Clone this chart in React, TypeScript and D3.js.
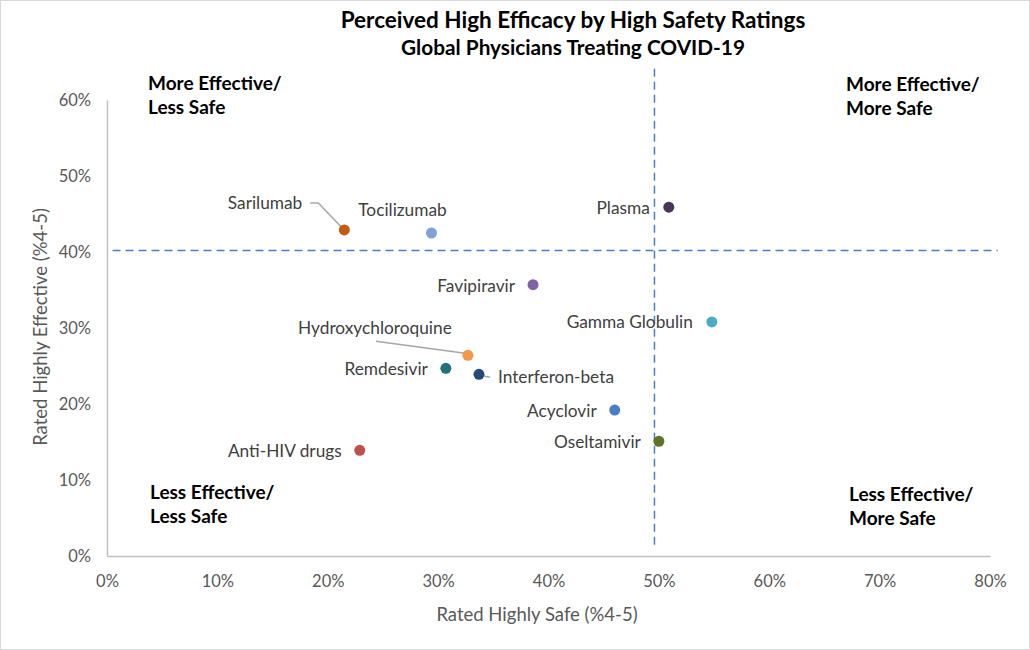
import React, { useRef, useEffect } from 'react';
import * as d3 from 'd3';

// Drugs rated by global physicians treating COVID-19
const drugs = [
  'Sarilumab',
  'Tocilizumab',
  'Plasma',
  'Favipiravir',
  'Gamma Globulin',
  'Hydroxychloroquine',
  'Remdesivir',
  'Interferon-beta',
  'Acyclovir',
  'Oseltamivir',
  'Anti-HIV drugs',
];
// % rating the drug 4-5 for safety (x) and for efficacy (y)
const ratedSafe = [21.5, 29.4, 50.9, 38.6, 54.8, 32.7, 30.7, 33.7, 46.0, 50.0, 22.9];
const ratedEffective = [42.9, 42.5, 45.9, 35.7, 30.8, 26.4, 24.7, 23.9, 19.2, 15.1, 13.9];

const xTicks = [0, 10, 20, 30, 40, 50, 60, 70, 80];
const yTicks = [0, 10, 20, 30, 40, 50, 60];

// quadrant split lines (hand placed in the original)
const safetyCut = 49.6;
const efficacyCut = 40.2;

const dotColors = [
  '#C55A11',
  '#7FA3D6',
  '#473659',
  '#8064A2',
  '#4BACC6',
  '#F79646',
  '#23717A',
  '#254A73',
  '#4A7DC4',
  '#5E7329',
  '#C0504D',
];

// label placement in px relative to the dot
const labelPlace = {
  Sarilumab: { dx: -42, dy: -27, anchor: 'end', leader: [[-34, -27], [-26, -27], [-3, -3]] },
  Tocilizumab: { dx: -29, dy: -23, anchor: 'middle' },
  Plasma: { dx: -19, dy: 1, anchor: 'end' },
  Favipiravir: { dx: -18, dy: 1, anchor: 'end' },
  'Gamma Globulin': { dx: -19, dy: 0, anchor: 'end' },
  Hydroxychloroquine: { dx: -93, dy: -27, anchor: 'middle', leader: [[-92, -14], [-3, -2]] },
  Remdesivir: { dx: -18, dy: 1, anchor: 'end' },
  'Interferon-beta': { dx: 19, dy: 3, anchor: 'start', leader: [[1, 1], [11, 3]] },
  Acyclovir: { dx: -18, dy: 1, anchor: 'end' },
  Oseltamivir: { dx: -18, dy: 1, anchor: 'end' },
  'Anti-HIV drugs': { dx: -18, dy: 1, anchor: 'end' },
};

const quadrants = [
  { lines: ['More Effective/', 'Less Safe'], x: 148, y: 83 },
  { lines: ['More Effective/', 'More Safe'], x: 846, y: 84 },
  { lines: ['Less Effective/', 'Less Safe'], x: 150, y: 492 },
  { lines: ['Less Effective/', 'More Safe'], x: 849, y: 494 },
];

const FONT = 'Lato, "Open Sans", sans-serif';

function Chart() {
  const chartRef = useRef(null);

  useEffect(() => {
    document.body.style.margin = '0';
    const svg = d3.select(chartRef.current);
    svg.selectAll('*').remove();

    const width = 1030;
    const height = 650;

    svg
      .append('rect')
      .attr('x', 0.5)
      .attr('y', 0.5)
      .attr('width', width - 1)
      .attr('height', height - 1)
      .attr('fill', '#fff')
      .attr('stroke', '#D9D9D9');

    const xScale = d3.scaleLinear().domain([0, 80]).range([107, 990]);
    const yScale = d3.scaleLinear().domain([0, 60]).range([556, 100]);

    // Titles
    svg
      .append('text')
      .attr('x', 573)
      .attr('y', 20)
      .attr('dy', '0.35em')
      .attr('text-anchor', 'middle')
      .attr('font-family', FONT)
      .attr('font-weight', 'bold')
      .attr('font-size', 22.5)
      .attr('fill', '#000')
      .text('Perceived High Efficacy by High Safety Ratings');
    svg
      .append('text')
      .attr('x', 573)
      .attr('y', 48)
      .attr('dy', '0.35em')
      .attr('text-anchor', 'middle')
      .attr('font-family', FONT)
      .attr('font-weight', 'bold')
      .attr('font-size', 20.8)
      .attr('fill', '#000')
      .text('Global Physicians Treating COVID-19');

    // Axes
    const xAxis = d3
      .axisBottom(xScale)
      .tickValues(xTicks)
      .tickSize(0)
      .tickPadding(19)
      .tickFormat((d) => `${d}%`);
    const yAxis = d3
      .axisLeft(yScale)
      .tickValues(yTicks)
      .tickSize(0)
      .tickPadding(16)
      .tickFormat((d) => `${d}%`);

    const gx = svg.append('g').attr('transform', `translate(0,${yScale(0)})`).call(xAxis);
    const gy = svg.append('g').attr('transform', `translate(${xScale(0)},0)`).call(yAxis);
    [gx, gy].forEach((g) => {
      g.select('.domain').attr('stroke', '#BFBFBF').attr('stroke-width', 1.5);
      g.selectAll('text')
        .attr('font-family', FONT)
        .attr('font-size', 16.5)
        .attr('fill', '#595959');
    });

    // Axis titles
    svg
      .append('text')
      .attr('x', 537)
      .attr('y', 615)
      .attr('dy', '0.35em')
      .attr('text-anchor', 'middle')
      .attr('font-family', FONT)
      .attr('font-size', 18.5)
      .attr('fill', '#595959')
      .text('Rated Highly Safe (%4-5)');
    svg
      .append('text')
      .attr('transform', 'translate(41,327) rotate(-90)')
      .attr('dy', '0.35em')
      .attr('text-anchor', 'middle')
      .attr('font-family', FONT)
      .attr('font-size', 18.5)
      .attr('fill', '#595959')
      .text('Rated Highly Effective (%4-5)');

    // Quadrant split lines
    svg
      .append('line')
      .attr('x1', xScale(0.5))
      .attr('x2', xScale(80.7))
      .attr('y1', yScale(efficacyCut))
      .attr('y2', yScale(efficacyCut))
      .attr('stroke', '#4A7DC4')
      .attr('stroke-width', 1.5)
      .attr('stroke-dasharray', '8,5');
    svg
      .append('line')
      .attr('x1', xScale(safetyCut))
      .attr('x2', xScale(safetyCut))
      .attr('y1', yScale(64.1))
      .attr('y2', yScale(0.9))
      .attr('stroke', '#4A7DC4')
      .attr('stroke-width', 1.5)
      .attr('stroke-dasharray', '8,5');

    // Quadrant labels
    quadrants.forEach((q) => {
      q.lines.forEach((line, i) => {
        svg
          .append('text')
          .attr('x', q.x)
          .attr('y', q.y + i * 24.5)
          .attr('dy', '0.35em')
          .attr('font-family', FONT)
          .attr('font-weight', 'bold')
          .attr('font-size', 19)
          .attr('fill', '#000')
          .text(line);
      });
    });

    const points = drugs.map((name, i) => ({
      name,
      x: xScale(ratedSafe[i]),
      y: yScale(ratedEffective[i]),
      color: dotColors[i],
      place: labelPlace[name],
    }));

    // Leader lines
    points
      .filter((p) => p.place.leader)
      .forEach((p) => {
        svg
          .append('path')
          .attr('d', d3.line()(p.place.leader.map(([dx, dy]) => [p.x + dx, p.y + dy])))
          .attr('fill', 'none')
          .attr('stroke', '#A6A6A6')
          .attr('stroke-width', 1.5);
      });

    // Dots
    svg
      .selectAll('circle.dot')
      .data(points)
      .enter()
      .append('circle')
      .attr('class', 'dot')
      .attr('cx', (d) => d.x)
      .attr('cy', (d) => d.y)
      .attr('r', 5.5)
      .attr('fill', (d) => d.color);

    // Data labels
    svg
      .selectAll('text.lbl')
      .data(points)
      .enter()
      .append('text')
      .attr('class', 'lbl')
      .attr('x', (d) => d.x + d.place.dx)
      .attr('y', (d) => d.y + d.place.dy)
      .attr('dy', '0.35em')
      .attr('text-anchor', (d) => d.place.anchor)
      .attr('font-family', FONT)
      .attr('font-size', 17.3)
      .attr('fill', '#404040')
      .text((d) => d.name);
  }, []);

  return <svg ref={chartRef} width={1030} height={650} style={{ display: 'block' }}></svg>;
}

export default function App() {
  return <Chart />;
}
